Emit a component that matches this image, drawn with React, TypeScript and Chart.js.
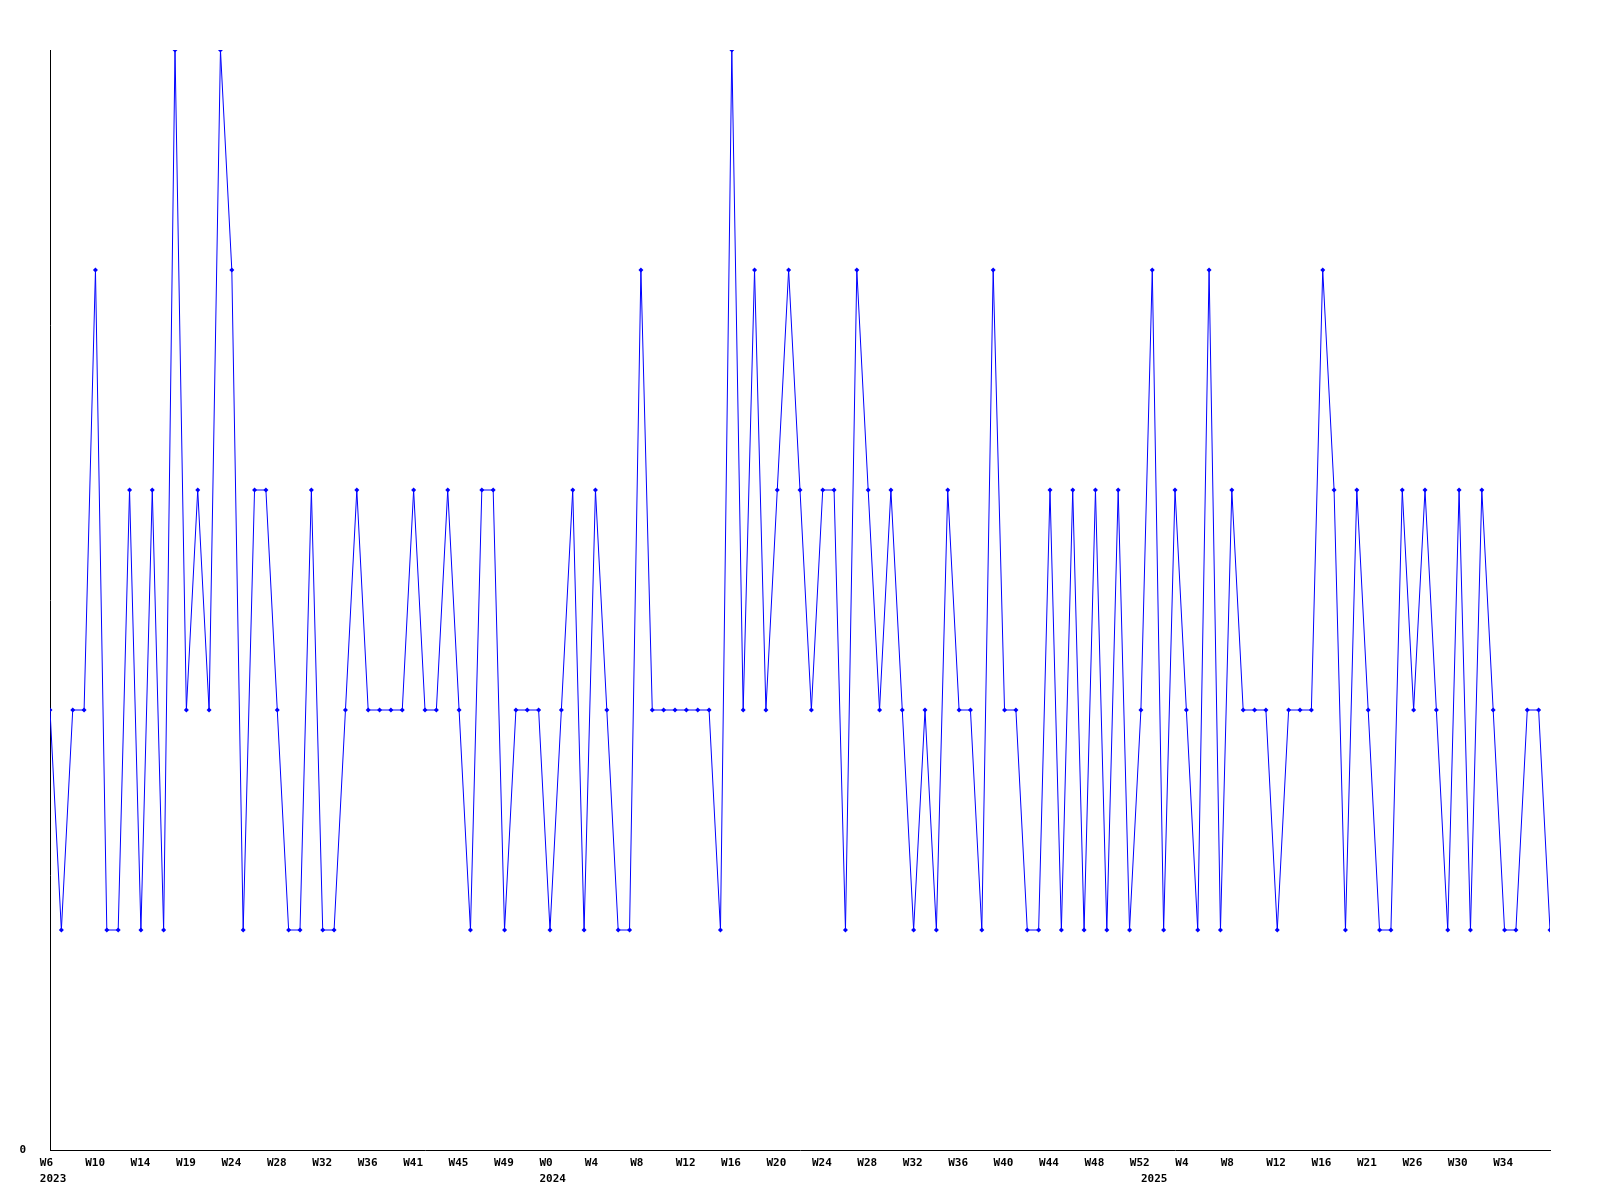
import { useEffect, useRef } from 'react';
import { Chart, registerables } from 'chart.js';

Chart.register(...registerables);

// Weekly values, one per week, starting 2023 W6
const values: number[] = [
  2, 1, 2, 2, 4, 1, 1, 3, 1, 3,
  1, 5, 2, 3, 2, 5, 4, 1, 3, 3,
  2, 1, 1, 3, 1, 1, 2, 3, 2, 2,
  2, 2, 3, 2, 2, 3, 2, 1, 3, 3,
  1, 2, 2, 2, 1, 2, 3, 1, 3, 2,
  1, 1, 4, 2, 2, 2, 2, 2, 2, 1,
  5, 2, 4, 2, 3, 4, 3, 2, 3, 3,
  1, 4, 3, 2, 3, 2, 1, 2, 1, 3,
  2, 2, 1, 4, 2, 2, 1, 1, 3, 1,
  3, 1, 3, 1, 3, 1, 2, 4, 1, 3,
  2, 1, 4, 1, 3, 2, 2, 2, 1, 2,
  2, 2, 4, 3, 1, 3, 2, 1, 1, 3,
  2, 3, 2, 1, 3, 1, 3, 2, 1, 1,
  2, 2, 1,
];

// X axis tick labels (week numbers)
const weekLabels: string[] = [
  'W6', 'W10', 'W14', 'W19', 'W24', 'W28', 'W32', 'W36', 'W41', 'W45', 'W49',
  'W0', 'W4', 'W8', 'W12', 'W16', 'W20', 'W24', 'W28', 'W32', 'W36', 'W40', 'W44', 'W48', 'W52',
  'W4', 'W8', 'W12', 'W16', 'W21', 'W26', 'W30', 'W34',
];

// Year labels and the week tick they sit under (2025 sits on its own tick)
const yearLabels: string[] = ['2023', '2024', '2025'];
const yearTickIndex: number[] = [0, 11, -1];

const yMin = 0;
const yMax = 5;

export default function App() {
  const ref = useRef<HTMLCanvasElement | null>(null);

  useEffect(() => {
    document.body.style.margin = '0';
    const canvas = ref.current;
    if (!canvas) return;

    const TICK0 = -0.9;
    const TICK_STEP = 3.997;
    const YEAR3_POS = 96.0;

    const tickValues: number[] = weekLabels.map((_, k) => TICK0 + k * TICK_STEP);
    const tickTexts: (string | string[])[] = weekLabels.map((w, k) => {
      const yi = yearTickIndex.indexOf(k);
      return yi >= 0 ? [w, yearLabels[yi]] : w;
    });
    tickValues.push(YEAR3_POS);
    tickTexts.push(['', yearLabels[2]]);

    const font = {
      family: '"DejaVu Sans Mono", "Liberation Mono", monospace',
      size: 11,
      weight: 'bold' as const,
      lineHeight: 16 / 11,
    };

    const chart = new Chart(canvas, {
      type: 'line',
      data: {
        datasets: [
          {
            data: values.map((v, i) => ({ x: i, y: v })),
            borderColor: '#0000ff',
            backgroundColor: '#0000ff',
            borderWidth: 1,
            pointRadius: 2.5,
            pointHoverRadius: 2.5,
            pointStyle: 'rectRot',
            pointBorderWidth: 0,
            tension: 0,
            fill: false,
          },
        ],
      },
      options: {
        animation: false,
        responsive: false,
        devicePixelRatio: 1,
        events: [],
        layout: { padding: { top: 50, right: 50, left: 0, bottom: 0 } },
        plugins: {
          legend: { display: false },
          tooltip: { enabled: false },
          title: { display: false },
        },
        scales: {
          x: {
            type: 'linear',
            min: 0,
            max: values.length - 1,
            grid: { display: false },
            border: { display: true, color: '#000000', width: 1 },
            afterBuildTicks: (scale: any) => {
              scale.ticks = tickValues.map((v) => ({ value: v }));
            },
            afterFit: (scale: any) => {
              scale.height = 50;
            },
            ticks: {
              autoSkip: false,
              maxRotation: 0,
              minRotation: 0,
              align: 'start',
              padding: -3,
              color: '#000000',
              font,
              callback: (_v: any, i: number) => tickTexts[i],
            },
          },
          y: {
            type: 'linear',
            min: yMin,
            max: yMax,
            grid: { display: false },
            border: { display: true, color: '#000000', width: 1 },
            afterBuildTicks: (scale: any) => {
              scale.ticks = [{ value: yMin }];
            },
            afterFit: (scale: any) => {
              scale.width = 50;
            },
            ticks: {
              padding: 16,
              color: '#000000',
              font,
              callback: (v: any) => String(v),
            },
          },
        },
      },
    });

    return () => {
      chart.destroy();
    };
  }, []);

  return (
    <div style={{ width: 1600, height: 1200, background: '#ffffff' }}>
      <canvas ref={ref} width={1600} height={1200} style={{ display: 'block' }} />
    </div>
  );
}
